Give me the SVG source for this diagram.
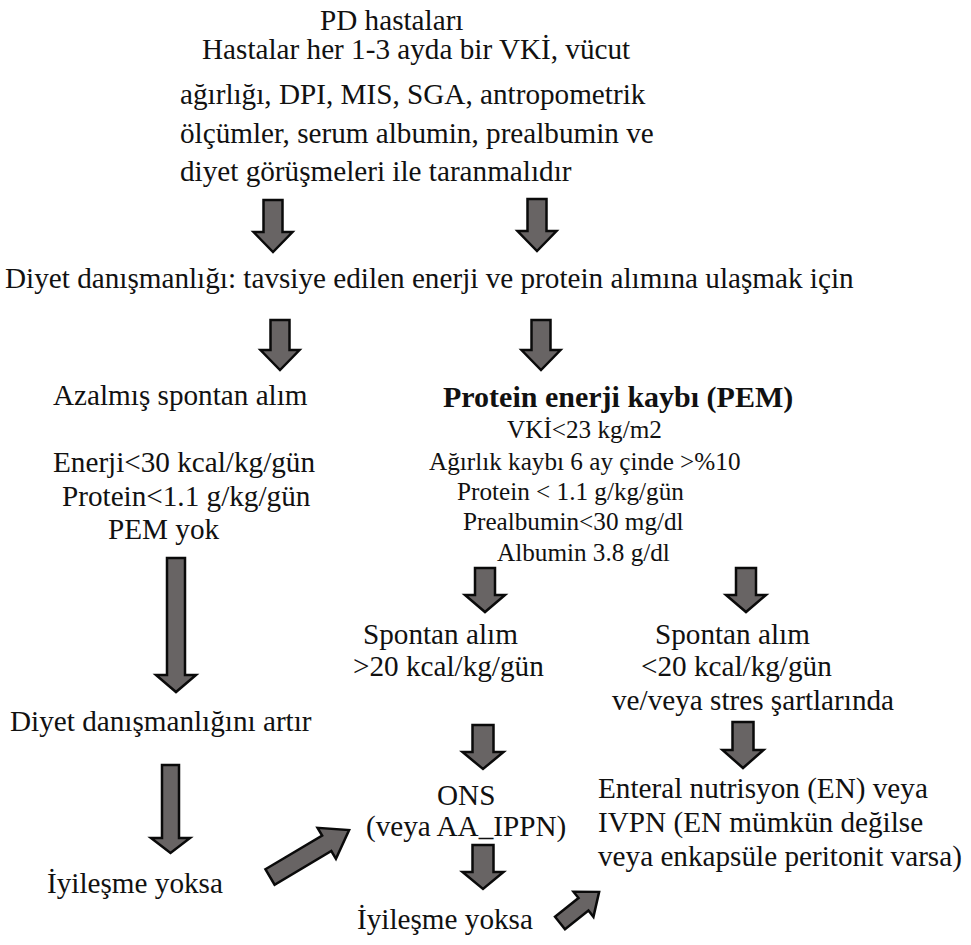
<svg xmlns="http://www.w3.org/2000/svg" width="971" height="945" viewBox="0 0 971 945" font-family="Tinos, FreeSerif, serif">
<style>
text{fill:#111;font-size:29.2px;font-family:Tinos,FreeSerif,"Liberation Serif",serif}
.s{font-size:25.2px}
.b{font-weight:bold;font-size:30px}
.arr{fill:#686464;stroke:#0a0a0a;stroke-width:2.5;stroke-linejoin:miter}
</style>
<rect width="971" height="945" fill="#fff"/>
<g id="connectors">
<path class="arr" d="M263.5,200 H282.5 V232 H292.5 L273,252 L253.5,232 H263.5 Z"/>
<path class="arr" d="M527.5,199 H546.5 V231 H556.5 L537,251 L517.5,231 H527.5 Z"/>
<path class="arr" d="M270.5,320 H289.5 V350 H299.5 L280,370 L260.5,350 H270.5 Z"/>
<path class="arr" d="M531.5,320 H550.5 V350 H560.5 L541,370 L521.5,350 H531.5 Z"/>
<path class="arr" d="M167,558 H185 V675 H196 L176,692 L156,675 H167 Z"/>
<path class="arr" d="M475,568 H495 V595 H505 L485,612 L465,595 H475 Z"/>
<path class="arr" d="M736,568 H756 V595 H766 L746,612 L726,595 H736 Z"/>
<path class="arr" d="M162,765 H179 V838 H190 L170.5,853 L151,838 H162 Z"/>
<path class="arr" d="M472.5,725 H493.5 V752 H503.5 L483,769 L462.5,752 H472.5 Z"/>
<path class="arr" d="M472.5,845 H493.5 V872 H503.5 L483,889 L462.5,872 H472.5 Z"/>
<path class="arr" d="M732.5,722 H753.5 V750 H763.5 L743,768 L722.5,750 H732.5 Z"/>
<path class="arr" transform="translate(270,877) rotate(-30.7)" d="M0,-9 H66 V-18 L92,0 L66,18 V9 H0 Z"/>
<path class="arr" transform="translate(560,923) rotate(-38.5)" d="M0,-8 H30 V-16 L50,0 L30,16 V8 H0 Z"/>
</g>
<g id="pd">
<text x="320" y="30">PD hastaları</text>
<text x="202" y="59">Hastalar her 1-3 ayda bir VKİ, vücut</text>
<text x="180" y="104">ağırlığı, DPI, MIS, SGA, antropometrik</text>
<text x="180" y="143">ölçümler, serum albumin, prealbumin ve</text>
<text x="180" y="181">diyet görüşmeleri ile taranmalıdır</text>
</g>
<g id="diyet">
<text x="5" y="288">Diyet danışmanlığı: tavsiye edilen enerji ve protein alımına ulaşmak için</text>
</g>
<g id="azalmis">
<text x="53" y="405">Azalmış spontan alım</text>
<text x="53" y="472">Enerji&lt;30 kcal/kg/gün</text>
<text x="62" y="506">Protein&lt;1.1 g/kg/gün</text>
<text x="108" y="539">PEM yok</text>
</g>
<g id="pem">
<text class="b" x="443" y="407">Protein enerji kaybı (PEM)</text>
<text class="s" x="507" y="438">VKİ&lt;23 kg/m2</text>
<text class="s" x="429" y="470">Ağırlık kaybı 6 ay çinde &gt;%10</text>
<text class="s" x="457" y="500">Protein &lt; 1.1 g/kg/gün</text>
<text class="s" x="463" y="530">Prealbumin&lt;30 mg/dl</text>
<text class="s" x="497" y="561">Albumin 3.8 g/dl</text>
</g>
<g id="spontan-high">
<text x="363" y="644">Spontan alım</text>
<text x="353" y="676">&gt;20 kcal/kg/gün</text>
</g>
<g id="spontan-low">
<text x="655" y="644">Spontan alım</text>
<text x="641" y="676">&lt;20 kcal/kg/gün</text>
<text x="612" y="710">ve/veya stres şartlarında</text>
</g>
<g id="artir">
<text x="10" y="731">Diyet danışmanlığını artır</text>
</g>
<g id="iyilesme1">
<text x="47" y="893">İyileşme yoksa</text>
</g>
<g id="ons">
<text x="437" y="805">ONS</text>
<text x="366" y="836">(veya AA_IPPN)</text>
</g>
<g id="iyilesme2">
<text x="357" y="929">İyileşme yoksa</text>
</g>
<g id="enteral">
<text x="598" y="798">Enteral nutrisyon (EN) veya</text>
<text x="598" y="832">IVPN (EN mümkün değilse</text>
<text x="598" y="866">veya enkapsüle peritonit varsa)</text>
</g>
</svg>
